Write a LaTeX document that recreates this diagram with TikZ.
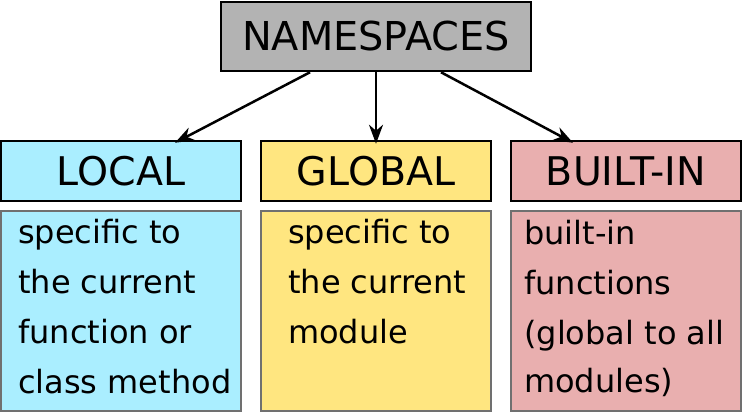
\documentclass[tikz,border=0pt]{standalone}
\usepackage{fontspec}
\setmainfont{DejaVu Sans}
\usetikzlibrary{arrows.meta}
\definecolor{nsgray}{HTML}{B3B3B3}
\definecolor{loccyan}{HTML}{AAEEFF}
\definecolor{globyellow}{HTML}{FFE680}
\definecolor{bipink}{HTML}{E9AFAF}
\definecolor{bodyedge}{HTML}{707070}
\begin{document}
\begin{tikzpicture}[x=1pt,y=-1pt,
  headbox/.style={draw=black,line width=2.5pt,inner sep=0pt,minimum width=240pt,minimum height=60pt,font=\fontsize{39.5}{40}\selectfont},
  bodybox/.style={draw=bodyedge,line width=2.5pt,inner sep=0pt,minimum width=240pt,minimum height=200pt},
  bodytext/.style={anchor=base west,inner sep=0pt,font=\fontsize{32}{50}\selectfont},
  conn/.style={line width=2.5pt,-{Stealth[length=19pt,width=14pt,inset=6pt]}}]
\useasboundingbox (0,0) rectangle (743,413);
\node[draw=black,line width=2.5pt,fill=nsgray,inner sep=0pt,minimum width=310pt,minimum height=69pt,font=\fontsize{39.8}{40}\selectfont] (ns) at (376,36.5) {NAMESPACES};
\node[headbox,fill=loccyan] (local) at (121,171) {LOCAL};
\node[headbox,fill=globyellow,minimum width=230pt] (global) at (376,171) {GLOBAL};
\node[headbox,fill=bipink,minimum width=230pt] (builtin) at (626,171) {BUILT-IN};
\node[bodybox,fill=loccyan] (localbody) at (121,311) {};
\node[bodybox,fill=globyellow,minimum width=230pt] (globalbody) at (376,311) {};
\node[bodybox,fill=bipink,minimum width=230pt] (builtinbody) at (626,311) {};
\draw[conn] ([xshift=-66pt]ns.south) -- ([xshift=54pt,yshift=-3pt]local.north);
\draw[conn] (ns.south) -- ([yshift=-4pt]global.north);
\draw[conn] ([xshift=65pt]ns.south) -- ([xshift=-53pt,yshift=-3pt]builtin.north);
\node[bodytext] (l1) at (18,243) {specific to};
\node[bodytext] (l2) at (18,293) {the current};
\node[bodytext] (l3) at (18,343) {function or};
\node[bodytext] (l4) at (18,393) {class method};
\node[bodytext] (g1) at (288,243) {specific to};
\node[bodytext] (g2) at (288,293) {the current};
\node[bodytext] (g3) at (288,343) {module};
\node[bodytext] (b1) at (524,244) {built-in};
\node[bodytext] (b2) at (524,294) {functions};
\node[bodytext] (b3) at (524,344) {(global to all};
\node[bodytext] (b4) at (524,392) {modules)};
\end{tikzpicture}
\end{document}
